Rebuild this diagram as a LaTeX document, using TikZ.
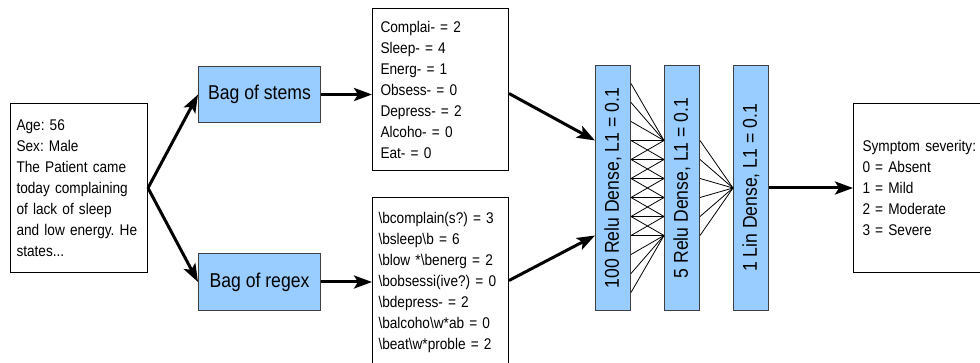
\documentclass[tikz,border=0pt]{standalone}
\usepackage{fontspec}
\setmainfont{Liberation Sans}[FakeStretch=0.88]
\usetikzlibrary{arrows.meta}
\definecolor{layerblue}{RGB}{153,204,255}
\frenchspacing

\begin{document}
\begin{tikzpicture}[x=1pt,y=-1pt,
  txtbox/.style={draw, line width=1pt, anchor=north west, align=left, inner xsep=6pt, text width=124pt, font=\fontsize{15.5}{21}\selectfont},
  bluebox/.style={draw=black!75, fill=layerblue, line width=1pt, anchor=north west, inner sep=0pt, font=\fontsize{20}{22}\selectfont},
  flow/.style={line width=3pt, -{Stealth[length=18pt,width=13pt,inset=4pt]}},
  wire/.style={line width=0.8pt}]
\useasboundingbox (0,0) rectangle (980,363);

\node[txtbox, text width=125pt, minimum height=169pt] (note) at (10,103) {Age: 56\\Sex: Male\\The Patient came\\today complaining\\of lack of sleep\\and low energy. He\\states...};

\node[bluebox, minimum width=122pt, minimum height=56pt] (stembag) at (198,66) {Bag of stems};
\node[bluebox, minimum width=122pt, minimum height=57pt] (regexbag) at (198,253) {Bag of regex};

\node[txtbox, inner xsep=8pt, text width=120pt, minimum height=162pt] (stems) at (372,8) {Complai- = 2\\Sleep- = 4\\Energ- = 1\\Obsess- = 0\\Depress- = 2\\Alcoho- = 0\\Eat- = 0};
\node[txtbox, minimum height=169pt] (regexes) at (372,197) {\textbackslash bcomplain(s?) = 3\\\textbackslash bsleep\textbackslash b = 6\\\textbackslash blow *\textbackslash benerg = 2\\\textbackslash bobsessi(ive?) = 0\\\textbackslash bdepress- = 2\\\textbackslash balcoho\textbackslash w*ab = 0\\\textbackslash beat\textbackslash w*proble = 2};

\node[bluebox, minimum width=35pt, minimum height=245pt] (dense1) at (595,65) {\rotatebox{90}{100 Relu Dense, L1 = 0.1}};
\node[bluebox, minimum width=35pt, minimum height=245pt] (dense2) at (664,65) {\rotatebox{90}{5 Relu Dense, L1 = 0.1}};
\node[bluebox, minimum width=35pt, minimum height=245pt] (dense3) at (733,65) {\rotatebox{90}{1 Lin Dense, L1 = 0.1}};

\node[txtbox, inner xsep=9pt, text width=122pt, minimum height=169pt] (severity) at (853,103) {Symptom severity:\\0 = Absent\\1 = Mild\\2 = Moderate\\3 = Severe};

\draw[flow] (note.east) -- (stembag.west);
\draw[flow] (note.east) -- (regexbag.west);
\draw[flow] (stembag.east) -- (stembag.east -| stems.west);
\draw[flow] (regexbag.east) -- (regexbag.east -| regexes.west);
\draw[flow] ([yshift=-4pt]stems.east) -- ([yshift=47.5pt]dense1.west);
\draw[flow] ([yshift=1.5pt]regexes.east) -- ([yshift=-47.5pt]dense1.west);
\draw[flow] (dense3.east) -- (severity.west);

\foreach \j in {1,...,12} \coordinate (p\j) at ([yshift={(6.5-\j)*19}]dense1.east);
\foreach \k in {4,...,9} {
  \coordinate (q\k) at ([yshift={(6.5-\k)*19}]dense2.west);
  \coordinate (r\k) at ([yshift={(6.5-\k)*19}]dense2.east);
}
\foreach \j in {1,...,12} \foreach \k in {4,...,9} {
  \pgfmathtruncatemacro\linked{(abs(\j-\k)<2) || (\j<4 && \k==4) || (\j>9 && \k==9)}
  \ifnum\linked=1 \draw[wire] (p\j) -- (q\k); \fi
}
\foreach \k in {4,...,9} \draw[wire] (r\k) -- (dense3.west);
\end{tikzpicture}
\end{document}
